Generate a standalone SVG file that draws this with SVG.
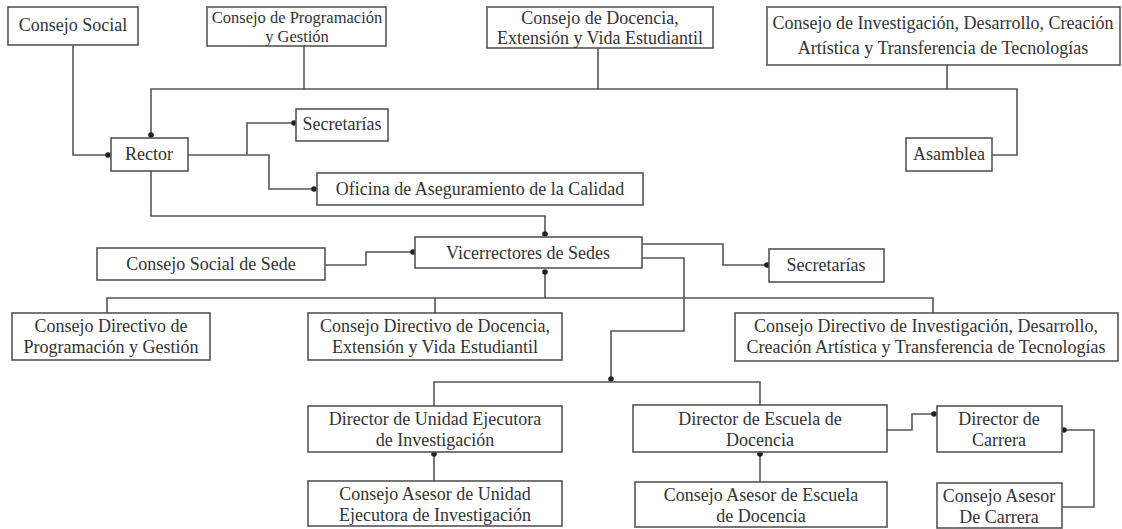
<svg xmlns="http://www.w3.org/2000/svg" width="1122" height="529" viewBox="0 0 1122 529">
<defs>
<style>
.box{fill:#fff;stroke:#555;stroke-width:1.6}
.t{font-family:"Liberation Serif","Times New Roman",serif;font-size:18px;fill:#333;text-anchor:middle}
.s{font-size:16.5px}
.c{fill:none;stroke:#555;stroke-width:1.6}
</style>
<marker id="dot" markerUnits="userSpaceOnUse" markerWidth="8" markerHeight="8" refX="4" refY="4" orient="auto">
<circle cx="4" cy="4" r="2.8" fill="#222"/>
</marker>
</defs>
<rect width="1122" height="529" fill="#fff"/>
<g id="connectors">
<path class="c" d="M73,45 V155 H108" marker-end="url(#dot)"/>
<path class="c" d="M992,155 H1017 V89 H151 V135" marker-end="url(#dot)"/>
<path class="c" d="M304,46 V89"/>
<path class="c" d="M598,48 V89"/>
<path class="c" d="M947,65 V89"/>
<path class="c" d="M188,155 H269 V189 H314" marker-end="url(#dot)"/>
<path class="c" d="M247,155 V123 H294" marker-end="url(#dot)"/>
<path class="c" d="M151,171 V216 H545 V234" marker-end="url(#dot)"/>
<path class="c" d="M325,265 H366 V252 H413" marker-end="url(#dot)"/>
<path class="c" d="M642,244 H723 V265 H767" marker-end="url(#dot)"/>
<path class="c" d="M642,258 H684 V331 H611 V379" marker-end="url(#dot)"/>
<path class="c" d="M434,406 V382 H760 V405"/>
<path class="c" d="M107,313 V298 H933 V313"/>
<path class="c" d="M435,313 V298"/>
<path class="c" d="M545,298 V272" marker-end="url(#dot)"/>
<path class="c" d="M434,481 V454" marker-end="url(#dot)"/>
<path class="c" d="M760,482 V454" marker-end="url(#dot)"/>
<path class="c" d="M887,430 H912 V414 H934" marker-end="url(#dot)"/>
<path class="c" d="M1062,507 H1094 V430 H1064" marker-end="url(#dot)"/>
</g>
<g id="consejo-social"><rect class="box" x="8" y="7" width="130" height="38"/><text class="t" x="73" y="31">Consejo Social</text></g>
<g id="consejo-programacion"><rect class="box" x="207" y="7" width="179" height="39"/><text class="t s" x="297" y="23">Consejo de Programación</text><text class="t s" x="297" y="42">y Gestión</text></g>
<g id="consejo-docencia"><rect class="box" x="487" y="7" width="226" height="41"/><text class="t" x="600" y="24">Consejo de Docencia,</text><text class="t" x="600" y="44">Extensión y Vida Estudiantil</text></g>
<g id="consejo-investigacion"><rect class="box" x="767" y="7" width="353" height="58"/><text class="t" x="943" y="29">Consejo de Investigación, Desarrollo, Creación</text><text class="t" x="943" y="54">Artística y Transferencia de Tecnologías</text></g>
<g id="rector"><rect class="box" x="111" y="138" width="77" height="33"/><text class="t" x="149" y="160">Rector</text></g>
<g id="secretarias"><rect class="box" x="296" y="109" width="92" height="32"/><text class="t" x="342" y="130">Secretarías</text></g>
<g id="oficina"><rect class="box" x="317" y="173" width="326" height="32"/><text class="t" x="480" y="195">Oficina de Aseguramiento de la Calidad</text></g>
<g id="asamblea"><rect class="box" x="906" y="138" width="86" height="33"/><text class="t" x="949" y="160">Asamblea</text></g>
<g id="consejo-social-sede"><rect class="box" x="97" y="248" width="228" height="32"/><text class="t" x="211" y="270">Consejo Social de Sede</text></g>
<g id="vicerrectores"><rect class="box" x="415" y="237" width="227" height="31"/><text class="t" x="528" y="259">Vicerrectores de Sedes</text></g>
<g id="secretarias-sede"><rect class="box" x="769" y="249" width="115" height="33"/><text class="t" x="826" y="271">Secretarías</text></g>
<g id="cd-programacion"><rect class="box" x="12" y="313" width="198" height="47"/><text class="t" x="111" y="332">Consejo Directivo de</text><text class="t" x="111" y="353">Programación y Gestión</text></g>
<g id="cd-docencia"><rect class="box" x="308" y="313" width="254" height="47"/><text class="t" x="435" y="332">Consejo Directivo de Docencia,</text><text class="t" x="435" y="353">Extensión y Vida Estudiantil</text></g>
<g id="cd-investigacion"><rect class="box" x="735" y="313" width="383" height="48"/><text class="t" x="926" y="332">Consejo Directivo de Investigación, Desarrollo,</text><text class="t" x="926" y="353">Creación Artística y Transferencia de Tecnologías</text></g>
<g id="director-unidad"><rect class="box" x="308" y="406" width="254" height="46"/><text class="t" x="435" y="425">Director de Unidad Ejecutora</text><text class="t" x="435" y="446">de Investigación</text></g>
<g id="director-escuela"><rect class="box" x="633" y="405" width="254" height="47"/><text class="t" x="760" y="425">Director de Escuela de</text><text class="t" x="760" y="446">Docencia</text></g>
<g id="director-carrera"><rect class="box" x="937" y="406" width="125" height="46"/><text class="t" x="999" y="425">Director de</text><text class="t" x="999" y="446">Carrera</text></g>
<g id="asesor-unidad"><rect class="box" x="308" y="481" width="254" height="45"/><text class="t" x="435" y="500">Consejo Asesor de Unidad</text><text class="t" x="435" y="521">Ejecutora de Investigación</text></g>
<g id="asesor-escuela"><rect class="box" x="635" y="482" width="252" height="45"/><text class="t" x="761" y="501">Consejo Asesor de Escuela</text><text class="t" x="761" y="522">de Docencia</text></g>
<g id="asesor-carrera"><rect class="box" x="937" y="483" width="125" height="45"/><text class="t" x="999" y="502">Consejo Asesor</text><text class="t" x="999" y="523">De Carrera</text></g>
</svg>
